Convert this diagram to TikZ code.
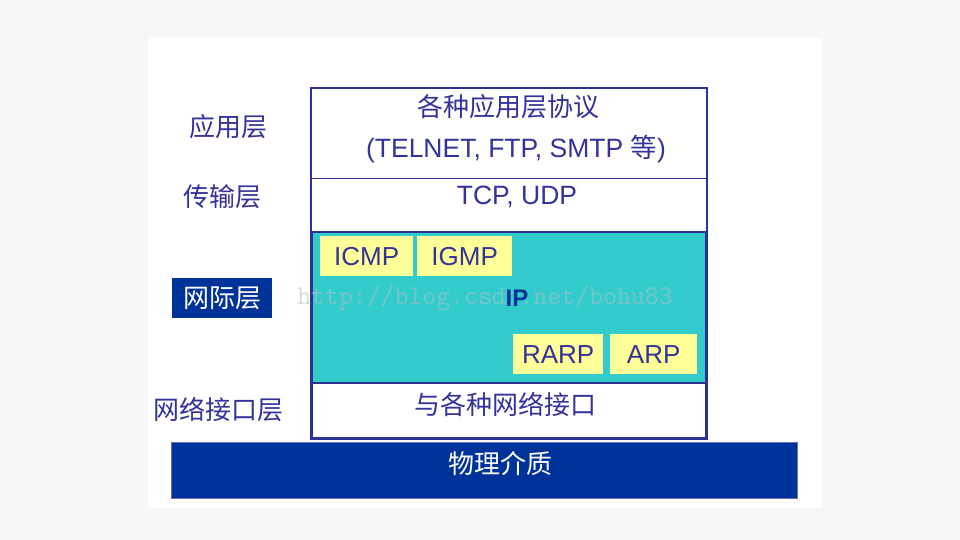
\documentclass[tikz,border=0pt]{standalone}
\usepackage{fontspec}
\setmainfont{Liberation Sans}
\newfontfamily\cjk{Noto Sans CJK SC}
\definecolor{navy}{HTML}{2E3192}
\definecolor{ink}{HTML}{333399}
\definecolor{teal}{HTML}{33CCCC}
\definecolor{lemon}{HTML}{FFFF99}
\definecolor{deepblue}{HTML}{003399}
\begin{document}
\begin{tikzpicture}[x=1pt,y=-1pt,
  txt/.style={text=ink,inner sep=0pt,font=\fontsize{26.5}{30}\selectfont},
  cjktxt/.style={text=ink,inner sep=0pt,font=\cjk\fontsize{26}{30}\selectfont},
  layer/.style={draw=navy,line width=2.2pt,rectangle,anchor=north west,minimum width=394pt,inner sep=0pt},
  protobox/.style={rectangle,fill=lemon,anchor=north west,minimum height=40pt,inner sep=0pt,
    text=ink,font=\fontsize{26}{30}\selectfont}]
\fill[black!3] (0,0) rectangle (960,540);
\fill[white] (148,38) rectangle (822,508);
\useasboundingbox (0,0) rectangle (960,540);
% protocol stack
\node[layer,draw=none,minimum height=88pt] (app) at (311,88) {};
\node[layer,draw=none,minimum height=55pt] (trans) at (311,176) {};
\node[layer,fill=teal,minimum height=151pt] (ip) at (311,231) {};
\node[layer,minimum height=55pt] (link) at (311,382) {};
\draw[navy,line width=2.2pt] (app.north west) rectangle (link.south east);
\draw[navy,line width=1pt] (app.south west) -- (app.south east);
\node[cjktxt] (appa) at (508,107) {各种应用层协议};
\node[txt] (appb) at (516,149) {(TELNET, FTP, SMTP {\cjk 等})};
\node[txt] (transt) at (517,197) {TCP, UDP};
\node[protobox,minimum width=93pt] (icmp) at (320,236) {ICMP};
\node[protobox,minimum width=95pt] (igmp) at (417,236) {IGMP};
\node[protobox,minimum width=90pt] (rarp) at (513,334) {RARP};
\node[protobox,minimum width=87pt] (arp) at (610,334) {ARP};
\node[text=cyan!20!gray!60,opacity=0.55,inner sep=0pt,font=\ttfamily\fontsize{27}{30}\selectfont] (mark) at (485,298) {http://blog.csdn.net/bohu83};
\node[text=deepblue,inner sep=0pt,font=\bfseries\fontsize{24}{28}\selectfont] (ipt) at (517,298) {IP};
\node[cjktxt] (linkt) at (505,404) {与各种网络接口};
% physical medium
\node[rectangle,fill=deepblue,draw=navy!70,anchor=north west,minimum width=626pt,minimum height=56pt] (phys) at (171,442) {};
\node[cjktxt,text=white] (physt) at (500,464) {物理介质};
% layer names
\node[cjktxt] (lapp) at (228,127) {应用层};
\node[cjktxt] (ltrans) at (222,197) {传输层};
\node[cjktxt,text=white,fill=deepblue,minimum width=100pt,minimum height=40pt] (lip) at (222,298) {网际层};
\node[cjktxt] (llink) at (218,410) {网络接口层};
\end{tikzpicture}
\end{document}
